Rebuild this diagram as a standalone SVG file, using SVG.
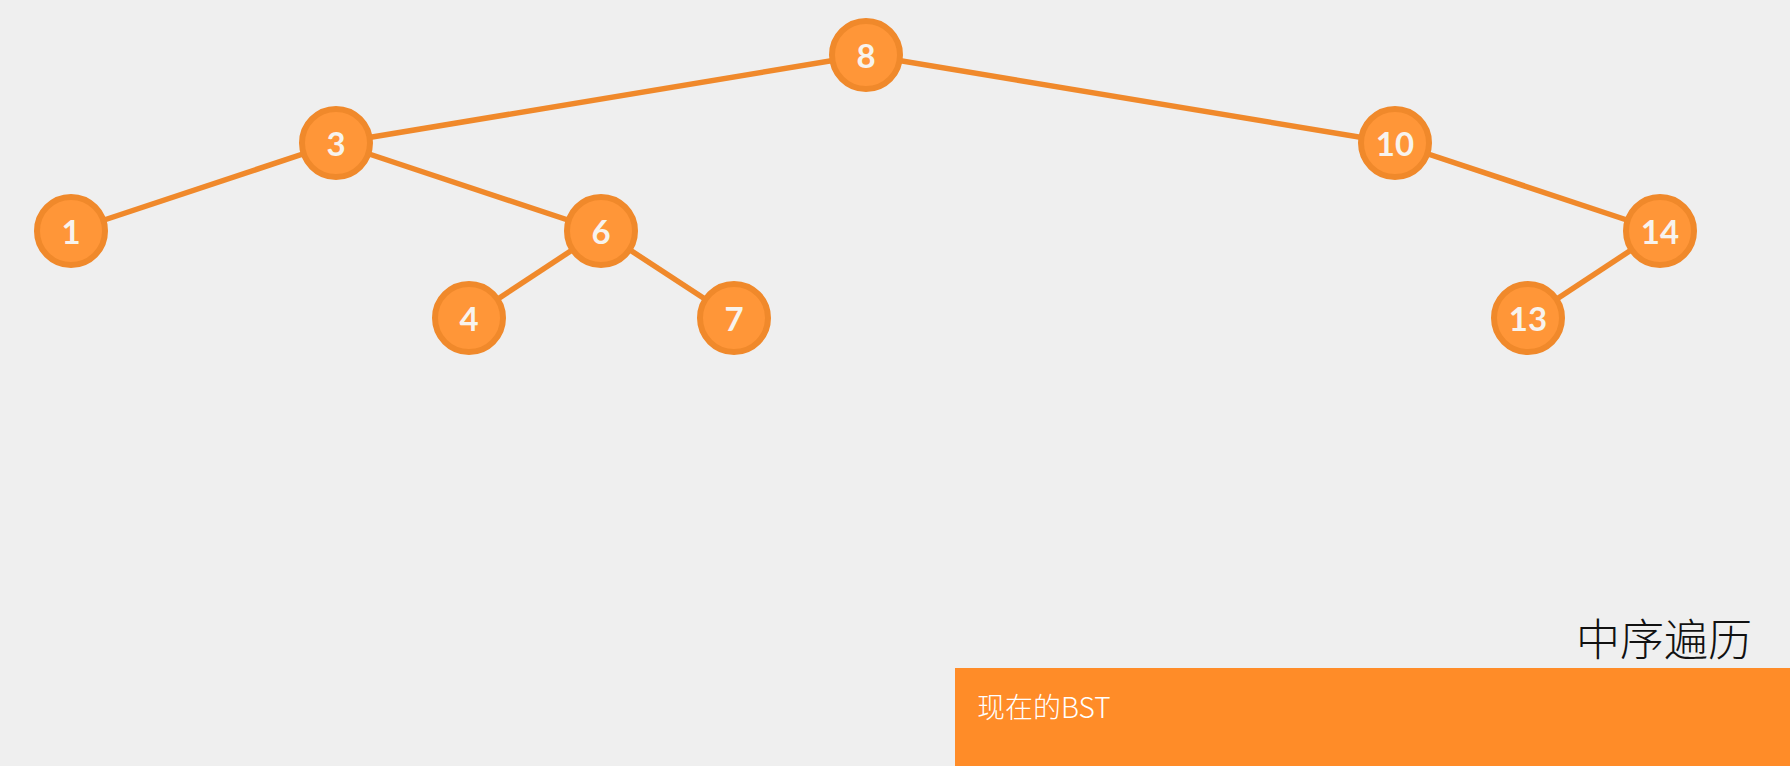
<svg xmlns="http://www.w3.org/2000/svg" width="1790" height="766" viewBox="0 0 1790 766">
<style>
.edge{stroke:#f0892b;stroke-width:5.5;fill:none}
.node circle{fill:#ff9638;stroke:#f0892b;stroke-width:6}
.node text{fill:#f7f3ee;font-family:Lato,"Open Sans",sans-serif;font-weight:bold;font-size:33px;text-anchor:middle;dominant-baseline:central}
</style>
<rect x="0" y="0" width="1790" height="766" fill="#efefef"/>
<g id="connectors">
<line class="edge" x1="866" y1="55" x2="336" y2="143"/>
<line class="edge" x1="866" y1="55" x2="1395" y2="143"/>
<line class="edge" x1="336" y1="143" x2="71" y2="231"/>
<line class="edge" x1="336" y1="143" x2="601" y2="231"/>
<line class="edge" x1="601" y1="231" x2="469" y2="318"/>
<line class="edge" x1="601" y1="231" x2="734" y2="318"/>
<line class="edge" x1="1395" y1="143" x2="1660" y2="231"/>
<line class="edge" x1="1660" y1="231" x2="1528" y2="318"/>
</g>
<g id="n8" class="node"><circle cx="866" cy="55" r="34"/><text x="866" y="55">8</text></g>
<g id="n3" class="node"><circle cx="336" cy="143" r="34"/><text x="336" y="143">3</text></g>
<g id="n10" class="node"><circle cx="1395" cy="143" r="34"/><text x="1395" y="143">10</text></g>
<g id="n1" class="node"><circle cx="71" cy="231" r="34"/><text x="71" y="231">1</text></g>
<g id="n6" class="node"><circle cx="601" cy="231" r="34"/><text x="601" y="231">6</text></g>
<g id="n14" class="node"><circle cx="1660" cy="231" r="34"/><text x="1660" y="231">14</text></g>
<g id="n4" class="node"><circle cx="469" cy="318" r="34"/><text x="469" y="318">4</text></g>
<g id="n7" class="node"><circle cx="734" cy="318" r="34"/><text x="734" y="318">7</text></g>
<g id="n13" class="node"><circle cx="1528" cy="318" r="34"/><text x="1528" y="318">13</text></g>
<g id="title">
<text x="1752" y="656" text-anchor="end" font-family="'Noto Sans CJK SC',sans-serif" font-weight="300" font-size="44" fill="#111">中序遍历</text>
</g>
<g id="panel">
<rect x="955" y="668" width="835" height="98" fill="#ff8c28"/>
<text x="977" y="718" font-family="'Noto Sans CJK SC',sans-serif" font-weight="300" font-size="28" fill="#ffffff">现在的BST</text>
</g>
</svg>
